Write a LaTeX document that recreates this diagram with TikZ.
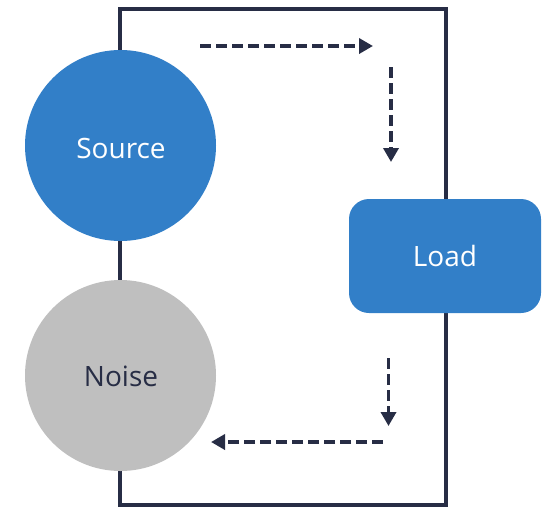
\documentclass[tikz,border=0pt]{standalone}
\usepackage{fontspec}
\setmainfont{Open Sans}
\usetikzlibrary{arrows.meta}
\definecolor{wireblue}{HTML}{327FC8}
\definecolor{noisegray}{HTML}{BFBFBF}
\definecolor{darkline}{HTML}{272D45}
\tikzset{
  wire/.style={draw=darkline, line width=4pt},
  flow/.style={draw=darkline, line width=3.5pt, dash pattern=on 11pt off 5pt,
    -{Triangle[length=14pt,width=15pt]}},
  ball/.style={circle, minimum size=191pt, inner sep=0pt, font=\fontsize{28}{32}\selectfont},
  loadbox/.style={rectangle, rounded corners=20pt, minimum width=192pt, minimum height=114pt,
    fill=wireblue, text=white, font=\fontsize{28}{32}\selectfont}
}
\begin{document}
\begin{tikzpicture}[x=1pt,y=-1pt]
  \useasboundingbox (0,0) rectangle (559,507);
  % circuit loop
  \coordinate (tl) at (120,9);
  \coordinate (tr) at (445.5,9);
  \coordinate (bl) at (120,504.5);
  \coordinate (br) at (445.5,504.5);
  \draw[wire] (bl) -- (tl) -- (tr) -- (br) -- cycle;
  % components on the loop
  \node[ball, fill=wireblue, text=white] (source) at (120.5,145.5) {};
  \node[text=white, font=\fontsize{28}{32}\selectfont] (sourcelabel) at (121,148) {Source};
  \node[ball, fill=noisegray, text=darkline] (noise) at (120.5,375.5) {};
  \node[text=darkline, font=\fontsize{28}{32}\selectfont] (noiselabel) at (121,376.5) {Noise};
  \node[loadbox] (load) at (445,256) {Load};
  % current direction markers
  \coordinate (a1s) at (200,46);
  \coordinate (a1e) at (373,46);
  \coordinate (a2s) at (391,67);
  \coordinate (a2e) at (391,162);
  \coordinate (a3s) at (388.5,358);
  \coordinate (a3e) at (388.5,426);
  \coordinate (a4s) at (383,442);
  \coordinate (a4e) at (211,442);
  \draw[flow] (a1s) -- (a1e);
  \draw[flow] (a2s) -- (a2e);
  \draw[flow] (a3s) -- (a3e);
  \draw[flow] (a4s) -- (a4e);
\end{tikzpicture}
\end{document}
